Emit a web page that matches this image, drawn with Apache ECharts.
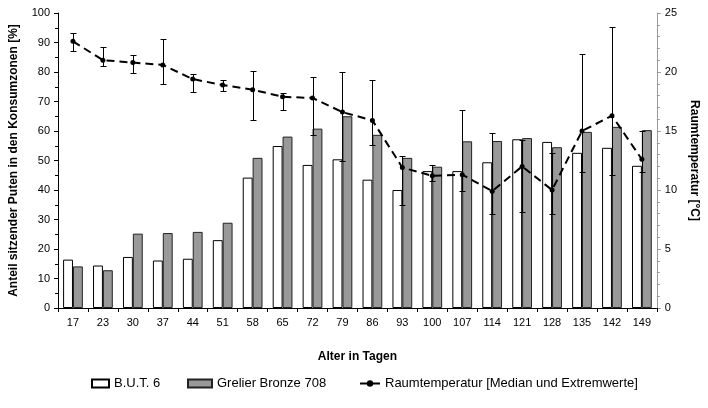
<!DOCTYPE html>
<html>
<head>
<meta charset="utf-8">
<script src="https://cdn.jsdelivr.net/npm/echarts@6/dist/echarts.min.js"></script>
<style>
  html, body { margin: 0; padding: 0; background: #fff; }
  #chart { width: 708px; height: 408px; }
</style>
</head>
<body>
<div id="chart"></div>
<script>
// Alter der Tiere (Tage)
const days = ['17','23','30','37','44','51','58','65','72','79','86','93','100','107','114','121','128','135','142','149'];
// Anteil sitzender Puten in den Konsumzonen [%]
const butSix = [16.4,14.4,17.3,16.1,16.7,23.0,44.2,54.9,48.5,50.4,43.5,40.0,46.4,46.4,49.4,57.2,56.3,52.6,54.3,48.2];
const grelier = [14.1,12.8,25.2,25.4,25.8,28.9,50.9,58.1,60.8,65.0,58.7,50.9,47.9,56.5,56.6,57.6,54.5,59.7,61.4,60.3];
// Raumtemperatur [°C]: Median, Maximum, Minimum
const tempMedian = [22.6,21.0,20.8,20.6,19.4,18.9,18.5,17.9,17.8,16.6,15.9,11.9,11.2,11.3,9.9,12.0,10.0,15.0,16.3,12.6];
const tempMax = [23.3,22.1,21.4,22.8,19.8,19.3,20.1,18.2,19.6,20.0,19.3,12.9,12.1,16.8,14.8,14.2,13.1,21.5,23.8,15.0];
const tempMin = [21.8,20.5,19.9,19.0,18.3,18.4,15.9,16.8,14.7,12.5,13.8,8.7,10.8,9.9,8.0,8.1,8.0,11.5,11.3,11.5];

const FONT = 'Liberation Sans, Arial, sans-serif';
const chart = echarts.init(document.getElementById('chart'), null, { renderer: 'canvas' });

// vertical min–max bar with short whiskers
function errorBar(params, api) {
  const i = api.value(0);
  const hi = api.coord([i, api.value(1)]);
  const lo = api.coord([i, api.value(2)]);
  const x = Math.round(hi[0]) + 0.5;
  const yH = Math.round(hi[1]) + 0.5;
  const yL = Math.round(lo[1]) + 0.5;
  const w = 3;
  const st = { stroke: '#000', lineWidth: 1 };
  return {
    type: 'group',
    children: [
      { type: 'line', shape: { x1: x, y1: yH, x2: x, y2: yL }, style: st },
      { type: 'line', shape: { x1: x - w, y1: yH, x2: x + w, y2: yH }, style: st },
      { type: 'line', shape: { x1: x - w, y1: yL, x2: x + w, y2: yL }, style: st }
    ]
  };
}

const legendText = { fontFamily: FONT, fontSize: 13, color: '#000' };
const legendBase = { top: 372, itemHeight: 8, textStyle: legendText };

const option = {
  backgroundColor: '#fff',
  animation: false,
  textStyle: { fontFamily: FONT, color: '#000' },
  grid: { left: 55, right: 42, top: 13, bottom: 100, containLabel: false },
  legend: [
    Object.assign({}, legendBase, { left: 86, itemWidth: 17, data: [{ name: 'B.U.T. 6', icon: 'rect' }] }),
    Object.assign({}, legendBase, { left: 182, itemWidth: 24, data: [{ name: 'Grelier Bronze 708', icon: 'rect' }] }),
    Object.assign({}, legendBase, { left: 354, itemWidth: 20, data: [{ name: 'Raumtemperatur [Median und Extremwerte]' }] })
  ],
  xAxis: {
    type: 'category',
    data: days,
    name: 'Alter in Tagen',
    nameLocation: 'middle',
    nameGap: 43,
    nameTextStyle: { fontFamily: FONT, fontWeight: 'bold', fontSize: 12, color: '#000' },
    axisLine: { lineStyle: { color: '#000', width: 1 } },
    axisTick: { show: true, length: 4, lineStyle: { color: '#000' } },
    axisLabel: { fontFamily: FONT, fontSize: 11, color: '#000', margin: 9 },
    splitLine: { show: false }
  },
  yAxis: [
    {
      type: 'value',
      min: 0, max: 100, interval: 10,
      name: 'Anteil sitzender Puten in den Konsumzonen [%]',
      nameLocation: 'middle',
      nameGap: 38,
      nameTextStyle: { fontFamily: FONT, fontWeight: 'bold', fontSize: 12, color: '#000' },
      axisLine: { show: true, lineStyle: { color: '#000', width: 1 } },
      axisTick: { show: true, length: 4, lineStyle: { color: '#000' } },
      minorTick: { show: true, splitNumber: 2, length: 3, lineStyle: { color: '#000' } },
      axisLabel: { fontFamily: FONT, fontSize: 11, color: '#000', margin: 8 },
      splitLine: { show: false }
    },
    {
      type: 'value',
      min: 0, max: 25, interval: 5,
      position: 'right',
      name: 'Raumtemperatur [°C]',
      nameLocation: 'middle',
      nameGap: 29,
      nameRotate: -90,
      nameTextStyle: { fontFamily: FONT, fontWeight: 'bold', fontSize: 12, color: '#000' },
      axisLine: { show: true, lineStyle: { color: '#999', width: 1 } },
      axisTick: { show: true, length: 4, lineStyle: { color: '#999' } },
      minorTick: { show: true, splitNumber: 5, length: 3, lineStyle: { color: '#999' } },
      axisLabel: { fontFamily: FONT, fontSize: 11, color: '#000', margin: 8 },
      splitLine: { show: false }
    }
  ],
  series: [
    {
      name: 'B.U.T. 6',
      type: 'bar',
      data: butSix,
      barGap: '0%',
      barCategoryGap: '34%',
      itemStyle: { color: '#fff', borderColor: '#000', borderWidth: 1 }
    },
    {
      name: 'Grelier Bronze 708',
      type: 'bar',
      data: grelier,
      itemStyle: { color: '#999', borderColor: '#222', borderWidth: 1 }
    },
    {
      name: 'Raumtemperatur [Median und Extremwerte]',
      type: 'line',
      yAxisIndex: 1,
      data: tempMedian,
      symbol: 'circle',
      symbolSize: 5,
      itemStyle: { color: '#000' },
      lineStyle: { color: '#000', width: 2, type: [8, 5] },
      z: 4
    },
    {
      name: 'Extremwerte',
      type: 'custom',
      yAxisIndex: 1,
      renderItem: errorBar,
      encode: { x: 0, y: [1, 2] },
      data: days.map((d, i) => [i, tempMax[i], tempMin[i]]),
      z: 3
    }
  ]
};

chart.setOption(option);
</script>
</body>
</html>
